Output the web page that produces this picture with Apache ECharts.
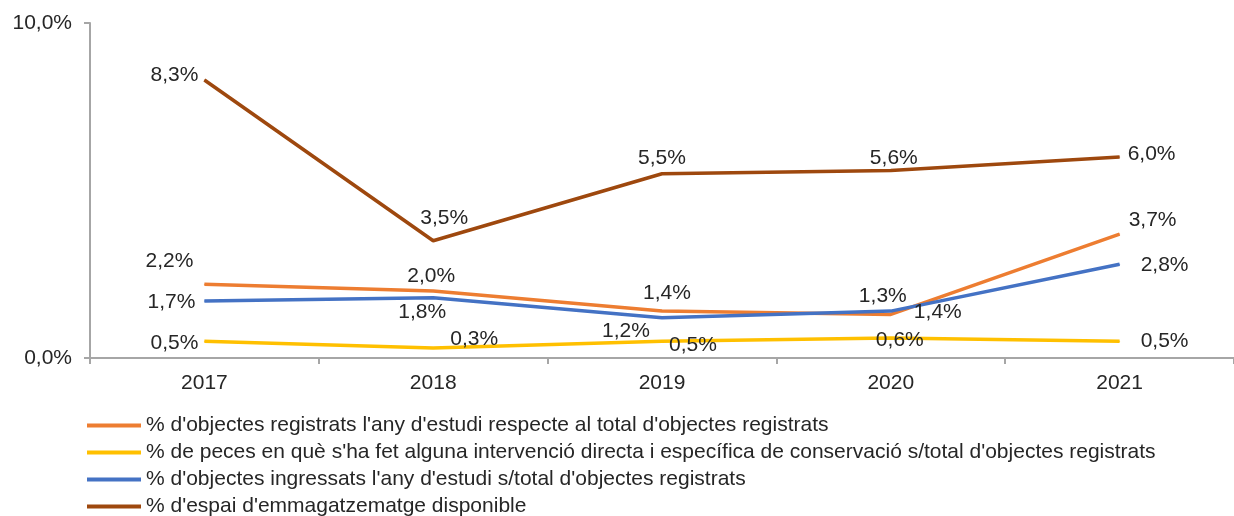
<!DOCTYPE html>
<html>
<head>
<meta charset="utf-8">
<script src="https://cdn.jsdelivr.net/npm/echarts@6/dist/echarts.min.js"></script>
<style>
  html, body { margin: 0; padding: 0; background: #fff; }
  #chart { width: 1234px; height: 516px; }
</style>
</head>
<body>
<div id="chart"></div>
<script>
var years = ['2017', '2018', '2019', '2020', '2021'];
var registrats = [2.2, 2.0, 1.4, 1.3, 3.7];
var conservacio = [0.5, 0.3, 0.5, 0.6, 0.5];
var ingressats = [1.7, 1.8, 1.2, 1.4, 2.8];
var espai = [8.3, 3.5, 5.5, 5.6, 6.0];
var seriesNames = [
  "% d'objectes registrats l'any d'estudi respecte al total d'objectes registrats",
  "% de peces en què s'ha fet alguna intervenció directa i específica de conservació s/total d'objectes registrats",
  "% d'objectes ingressats l'any d'estudi s/total d'objectes registrats",
  "% d'espai d'emmagatzematge disponible"
];

// label offsets (dx, dy from the point), one list per series
var offRegistrats = [[-35, -23], [-2, -15], [5, -18], [-8, -18], [33, -14]];
var offConservacio = [[-30, 2], [41, -9], [31, 4], [9, 2], [45, 0]];
var offIngressats = [[-33, 1], [-11, 15], [-36, 13], [47, 1], [45, 1]];
var offEspai = [[-30, -5], [11, -23], [0, -16], [3, -12], [32, -3]];

var FONT = 'Arial, "Liberation Sans", sans-serif';
var FS = 21;

function pct(v) {
  return v.toFixed(1).replace('.', ',') + '%';
}

function makeData(values, offsets) {
  return values.map(function (v, i) {
    return {
      value: v,
      label: { offset: offsets[i] }
    };
  });
}

function makeSeries(name, values, offsets, color) {
  return {
    name: name,
    type: 'line',
    data: makeData(values, offsets),
    symbol: 'circle',
    symbolSize: 1,
    lineStyle: { color: color, width: 3.5 },
    itemStyle: { color: color },
    label: {
      show: true,
      position: 'inside',
      color: '#262626',
      fontSize: FS,
      fontFamily: FONT,
      formatter: function (p) { return pct(p.value); }
    },
    emphasis: { disabled: true },
    animation: false
  };
}

var chart = echarts.init(document.getElementById('chart'));
chart.setOption({
  backgroundColor: '#ffffff',
  textStyle: { fontFamily: FONT },
  grid: {
    left: 90,
    right: -10,
    top: 23,
    bottom: 158
  },
  legend: {
    orient: 'vertical',
    left: 87,
    top: 415,
    height: 120,
    padding: 0,
    icon: 'rect',
    itemWidth: 54,
    itemHeight: 4,
    itemGap: 6,
    textStyle: { fontSize: FS, color: '#262626', lineHeight: 21, fontFamily: FONT },
    data: seriesNames
  },
  xAxis: {
    type: 'category',
    data: years,
    boundaryGap: true,
    axisLine: { lineStyle: { color: '#a6a6a6', width: 2 } },
    axisTick: { show: true, length: 6, lineStyle: { color: '#a6a6a6', width: 2 } },
    axisLabel: { fontSize: FS, color: '#262626', margin: 15, fontFamily: FONT }
  },
  yAxis: {
    type: 'value',
    min: 0,
    max: 10,
    interval: 10,
    axisLine: { show: true, lineStyle: { color: '#a6a6a6', width: 2 } },
    axisTick: { show: true, length: 6, lineStyle: { color: '#a6a6a6', width: 2 } },
    splitLine: { show: false },
    axisLabel: {
      fontSize: FS,
      color: '#262626',
      margin: 18,
      fontFamily: FONT,
      formatter: function (v) { return pct(v); }
    }
  },
  series: [
    makeSeries(seriesNames[0], registrats, offRegistrats, '#ed7d31'),
    makeSeries(seriesNames[1], conservacio, offConservacio, '#ffc000'),
    makeSeries(seriesNames[2], ingressats, offIngressats, '#4472c4'),
    makeSeries(seriesNames[3], espai, offEspai, '#9e480e')
  ]
});
</script>
</body>
</html>
